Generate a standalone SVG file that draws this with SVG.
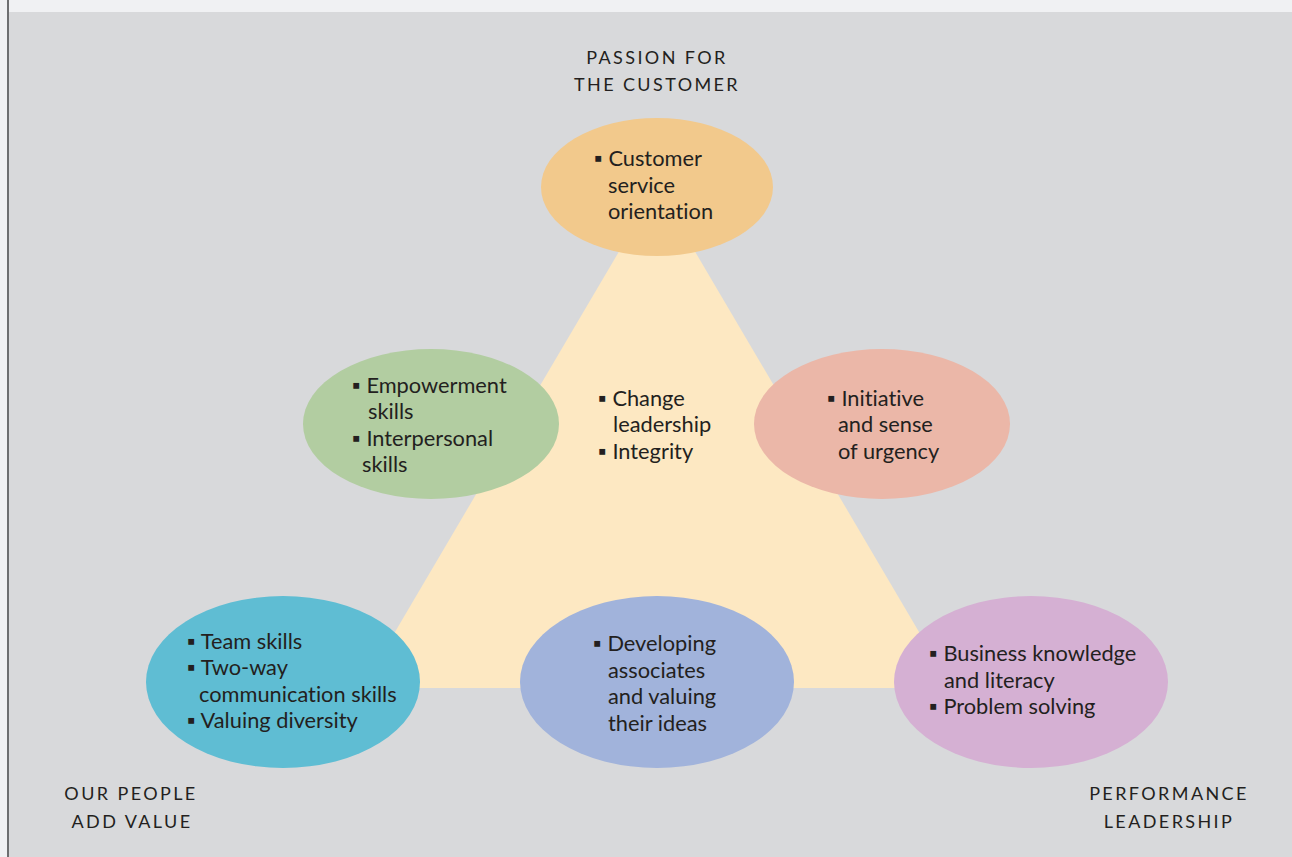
<svg xmlns="http://www.w3.org/2000/svg" width="1292" height="857" viewBox="0 0 1292 857">
<style>
.t{font-family:Lato,"Open Sans","Liberation Sans",sans-serif;font-size:21.8px;fill:#231f20;font-variant-ligatures:none}
.c{font-family:Lato,"Open Sans","Liberation Sans",sans-serif;font-size:18px;fill:#231f20;letter-spacing:2.4px;text-anchor:middle}
</style>
<rect x="0" y="0" width="1292" height="857" fill="#d8d9db"/>
<rect x="0" y="0" width="1292" height="12" fill="#f0f1f3"/>
<rect x="0" y="0" width="8" height="857" fill="#f0f1f3"/>
<rect x="7" y="0" width="2" height="857" fill="#6d6e70"/>
<g id="connectors">
<polygon points="657,187 362,688 952,688" fill="#fde8c2"/>
</g>
<g id="labels">
<text class="c" x="657" y="64">PASSION FOR</text>
<text class="c" x="657" y="91">THE CUSTOMER</text>
<text class="c" x="131" y="800">OUR PEOPLE</text>
<text class="c" x="132" y="828">ADD VALUE</text>
<text class="c" x="1169" y="800">PERFORMANCE</text>
<text class="c" x="1169" y="828">LEADERSHIP</text>
</g>
<g id="center">
<text class="t"><tspan x="598" y="406">▪ Change</tspan><tspan x="613" y="432">leadership</tspan><tspan x="598" y="459">▪ Integrity</tspan></text>
</g>
<g id="customer">
<ellipse cx="657" cy="187" rx="116" ry="69" fill="#f2c98c"/>
<text class="t"><tspan x="594" y="166">▪ Customer</tspan><tspan x="608" y="193">service</tspan><tspan x="608" y="219">orientation</tspan></text>
</g>
<g id="empowerment">
<ellipse cx="431" cy="424" rx="128" ry="75" fill="#b2cda1"/>
<text class="t"><tspan x="352" y="393">▪ Empowerment</tspan><tspan x="368" y="419">skills</tspan><tspan x="352" y="446">▪ Interpersonal</tspan><tspan x="362" y="472">skills</tspan></text>
</g>
<g id="initiative">
<ellipse cx="882" cy="424" rx="128" ry="75" fill="#ebb7a8"/>
<text class="t"><tspan x="827" y="406">▪ Initiative</tspan><tspan x="838" y="432">and sense</tspan><tspan x="838" y="459">of urgency</tspan></text>
</g>
<g id="team">
<ellipse cx="283" cy="682" rx="137" ry="86" fill="#5fbdd3"/>
<text class="t"><tspan x="187" y="649">▪ Team skills</tspan><tspan x="187" y="675">▪ Two-way</tspan><tspan x="199" y="702">communication skills</tspan><tspan x="187" y="728">▪ Valuing diversity</tspan></text>
</g>
<g id="developing">
<ellipse cx="657" cy="682" rx="137" ry="86" fill="#a1b3db"/>
<text class="t"><tspan x="593" y="651">▪ Developing</tspan><tspan x="608" y="678">associates</tspan><tspan x="608" y="704">and valuing</tspan><tspan x="608" y="731">their ideas</tspan></text>
</g>
<g id="business">
<ellipse cx="1031" cy="682" rx="137" ry="86" fill="#d5b0d3"/>
<text class="t"><tspan x="929" y="661">▪ Business knowledge</tspan><tspan x="944" y="688">and literacy</tspan><tspan x="929" y="714">▪ Problem solving</tspan></text>
</g>
</svg>
